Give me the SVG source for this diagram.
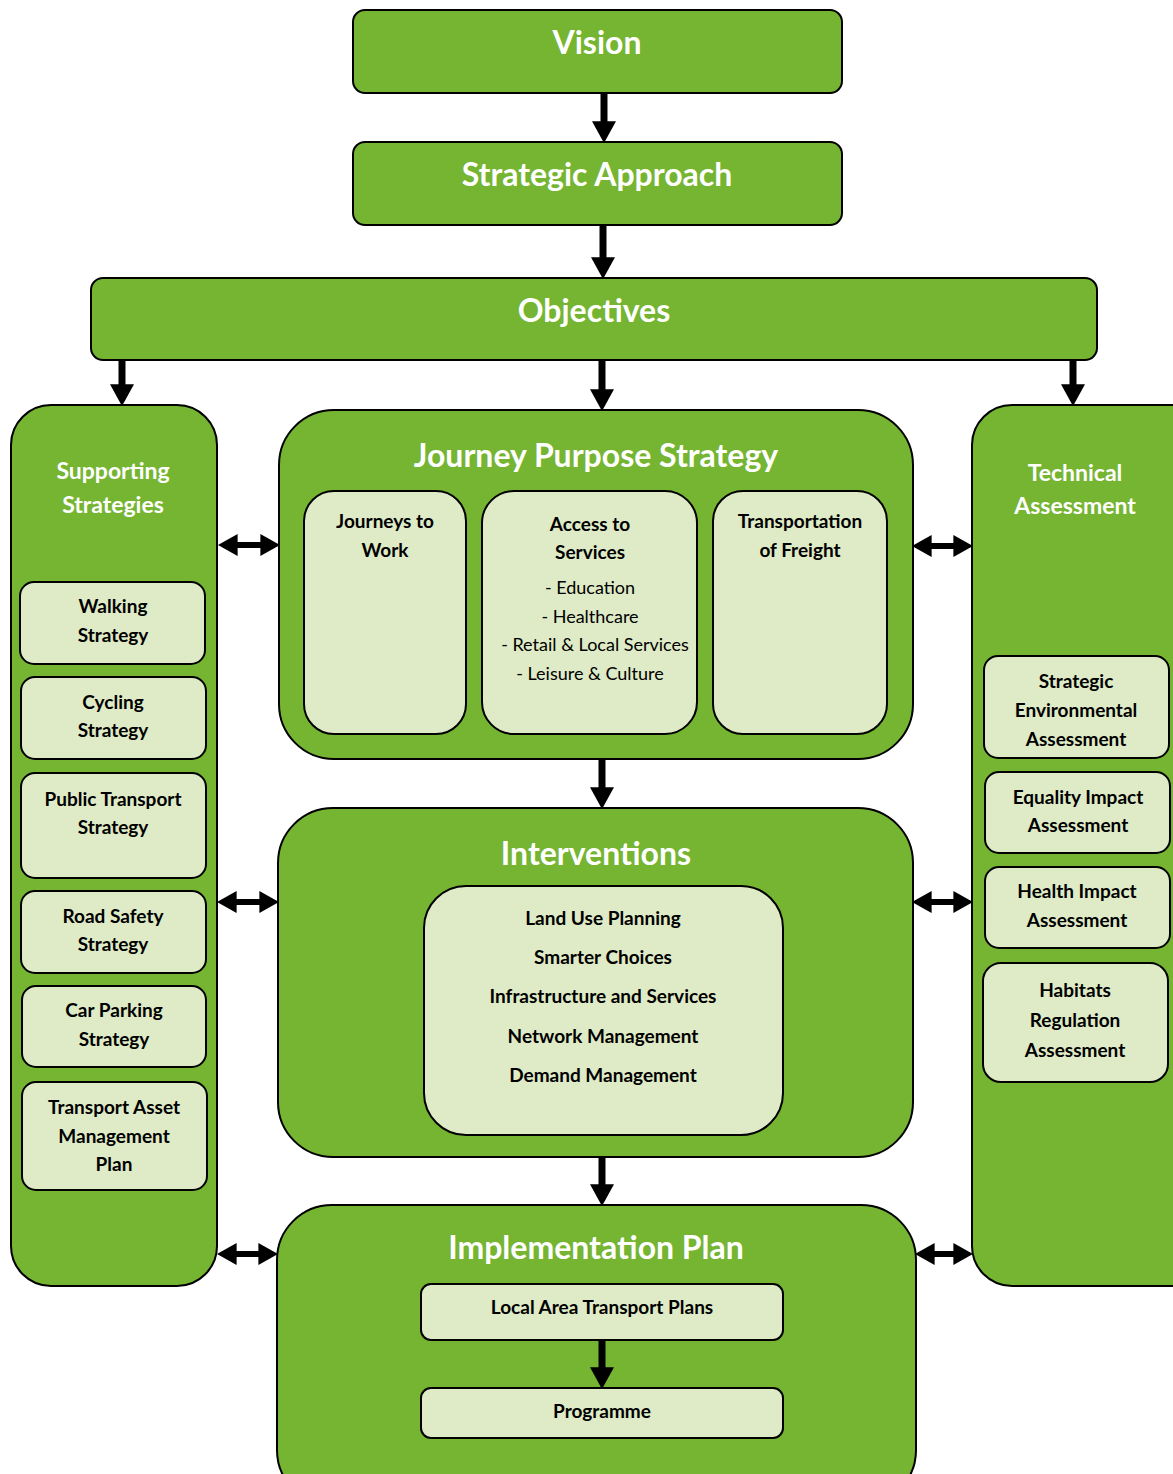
<svg xmlns="http://www.w3.org/2000/svg" width="1173" height="1474" viewBox="0 0 1173 1474">
<style>
.g{fill:#75B532;stroke:#000;stroke-width:2}
.l{fill:#DEEBC6;stroke:#000;stroke-width:2}
text{font-family:Lato,"Open Sans","Liberation Sans",sans-serif;text-anchor:middle}
.t1{font-size:32px;font-weight:bold;fill:#fff}
.t2{font-size:23px;font-weight:bold;fill:#fff}
.b{font-size:19px;font-weight:bold;fill:#000}
.r{font-size:18px;fill:#000}
.a{stroke:#000;stroke-width:7;fill:none}
.d{stroke:#000;stroke-width:6;fill:none}
</style>
<defs>
<marker id="ah" markerUnits="userSpaceOnUse" markerWidth="22" markerHeight="24" refX="8" refY="11" orient="auto" viewBox="0 0 20 22">
<path d="M0,0 L20,11 L0,22 Z" fill="#000"/>
</marker>
<marker id="dh" markerUnits="userSpaceOnUse" markerWidth="20" markerHeight="22" refX="6" refY="10" orient="auto-start-reverse" viewBox="0 0 18 20">
<path d="M0,0 L18,10 L0,20 Z" fill="#000"/>
</marker>
</defs>

<g id="vision">
<rect class="g" x="353" y="10" width="489" height="83" rx="12"/>
<text class="t1" x="597" y="54">Vision</text>
</g>
<g id="strategic-approach">
<rect class="g" x="353" y="142" width="489" height="83" rx="12"/>
<text class="t1" x="597" y="186">Strategic Approach</text>
</g>
<g id="objectives">
<rect class="g" x="91" y="278" width="1006" height="82" rx="12"/>
<text class="t1" x="594" y="322">Objectives</text>
</g>

<g id="supporting-strategies">
<rect class="g" x="11" y="405" width="206" height="881" rx="40"/>
<text class="t2" x="113" y="479">Supporting</text>
<text class="t2" x="113" y="513">Strategies</text>
</g>
<g id="walking">
<rect class="l" x="20" y="582" width="185" height="82" rx="14"/>
<text class="b" x="113" y="613">Walking</text>
<text class="b" x="113" y="642">Strategy</text>
</g>
<g id="cycling">
<rect class="l" x="21" y="677" width="185" height="82" rx="14"/>
<text class="b" x="113" y="709">Cycling</text>
<text class="b" x="113" y="737">Strategy</text>
</g>
<g id="public-transport">
<rect class="l" x="21" y="773" width="185" height="105" rx="14"/>
<text class="b" x="113" y="806">Public Transport</text>
<text class="b" x="113" y="834">Strategy</text>
</g>
<g id="road-safety">
<rect class="l" x="21" y="891" width="185" height="82" rx="14"/>
<text class="b" x="113" y="923">Road Safety</text>
<text class="b" x="113" y="951">Strategy</text>
</g>
<g id="car-parking">
<rect class="l" x="22" y="986" width="184" height="81" rx="14"/>
<text class="b" x="114" y="1017">Car Parking</text>
<text class="b" x="114" y="1046">Strategy</text>
</g>
<g id="transport-asset">
<rect class="l" x="22" y="1082" width="185" height="108" rx="14"/>
<text class="b" x="114" y="1114">Transport Asset</text>
<text class="b" x="114" y="1143">Management</text>
<text class="b" x="114" y="1171">Plan</text>
</g>

<g id="technical-assessment">
<rect class="g" x="972" y="405" width="240" height="881" rx="40"/>
<text class="t2" x="1075" y="481">Technical</text>
<text class="t2" x="1075" y="514">Assessment</text>
</g>
<g id="sea">
<rect class="l" x="984" y="656" width="185" height="102" rx="14"/>
<text class="b" x="1076" y="688">Strategic</text>
<text class="b" x="1076" y="717">Environmental</text>
<text class="b" x="1076" y="746">Assessment</text>
</g>
<g id="equality">
<rect class="l" x="985" y="772" width="185" height="81" rx="14"/>
<text class="b" x="1078" y="804">Equality Impact</text>
<text class="b" x="1078" y="832">Assessment</text>
</g>
<g id="health">
<rect class="l" x="985" y="867" width="185" height="81" rx="14"/>
<text class="b" x="1077" y="898">Health Impact</text>
<text class="b" x="1077" y="927">Assessment</text>
</g>
<g id="habitats">
<rect class="l" x="983" y="963" width="185" height="119" rx="18"/>
<text class="b" x="1075" y="997">Habitats</text>
<text class="b" x="1075" y="1027">Regulation</text>
<text class="b" x="1075" y="1057">Assessment</text>
</g>

<g id="journey-purpose-strategy">
<rect class="g" x="279" y="410" width="634" height="349" rx="55"/>
<text class="t1" x="596" y="467">Journey Purpose Strategy</text>
</g>
<g id="journeys-to-work">
<rect class="l" x="304" y="491" width="162" height="243" rx="30"/>
<text class="b" x="385" y="528">Journeys to</text>
<text class="b" x="385" y="557">Work</text>
</g>
<g id="access-to-services">
<rect class="l" x="482" y="491" width="215" height="243" rx="32"/>
<text class="b" x="590" y="531">Access to</text>
<text class="b" x="590" y="559">Services</text>
<text class="r" x="590" y="594">- Education</text>
<text class="r" x="590" y="623">- Healthcare</text>
<text class="r" x="595" y="651">- Retail &amp; Local Services</text>
<text class="r" x="590" y="680">- Leisure &amp; Culture</text>
</g>
<g id="freight">
<rect class="l" x="713" y="491" width="174" height="243" rx="30"/>
<text class="b" x="800" y="528">Transportation</text>
<text class="b" x="800" y="557">of Freight</text>
</g>

<g id="interventions">
<rect class="g" x="278" y="808" width="635" height="349" rx="55"/>
<text class="t1" x="596" y="865">Interventions</text>
</g>
<g id="interventions-list">
<rect class="l" x="424" y="886" width="359" height="249" rx="42"/>
<text class="b" x="603" y="925">Land Use Planning</text>
<text class="b" x="603" y="964">Smarter Choices</text>
<text class="b" x="603" y="1003">Infrastructure and Services</text>
<text class="b" x="603" y="1043">Network Management</text>
<text class="b" x="603" y="1082">Demand Management</text>
</g>

<g id="implementation-plan">
<rect class="g" x="277" y="1205" width="639" height="300" rx="55"/>
<text class="t1" x="596" y="1259">Implementation Plan</text>
</g>
<g id="local-area-transport-plans">
<rect class="l" x="421" y="1284" width="362" height="56" rx="10"/>
<text class="b" x="602" y="1314">Local Area Transport Plans</text>
</g>
<g id="programme">
<rect class="l" x="421" y="1388" width="362" height="50" rx="10"/>
<text class="b" x="602" y="1418">Programme</text>
</g>

<g id="connectors">
<line class="a" x1="604" y1="93" x2="604" y2="130" marker-end="url(#ah)"/>
<line class="a" x1="603" y1="225" x2="603" y2="266" marker-end="url(#ah)"/>
<line class="a" x1="122" y1="360" x2="122" y2="393" marker-end="url(#ah)"/>
<line class="a" x1="602" y1="360" x2="602" y2="398" marker-end="url(#ah)"/>
<line class="a" x1="1073" y1="360" x2="1073" y2="393" marker-end="url(#ah)"/>
<line class="a" x1="602" y1="759" x2="602" y2="796" marker-end="url(#ah)"/>
<line class="a" x1="602" y1="1157" x2="602" y2="1193" marker-end="url(#ah)"/>
<line class="a" x1="602" y1="1341" x2="602" y2="1376" marker-end="url(#ah)"/>
<line class="d" x1="231" y1="545" x2="267" y2="545" marker-start="url(#dh)" marker-end="url(#dh)"/>
<line class="d" x1="230" y1="902" x2="266" y2="902" marker-start="url(#dh)" marker-end="url(#dh)"/>
<line class="d" x1="230" y1="1254" x2="265" y2="1254" marker-start="url(#dh)" marker-end="url(#dh)"/>
<line class="d" x1="925" y1="546" x2="960" y2="546" marker-start="url(#dh)" marker-end="url(#dh)"/>
<line class="d" x1="925" y1="902" x2="960" y2="902" marker-start="url(#dh)" marker-end="url(#dh)"/>
<line class="d" x1="928" y1="1254" x2="960" y2="1254" marker-start="url(#dh)" marker-end="url(#dh)"/>
</g>
</svg>
